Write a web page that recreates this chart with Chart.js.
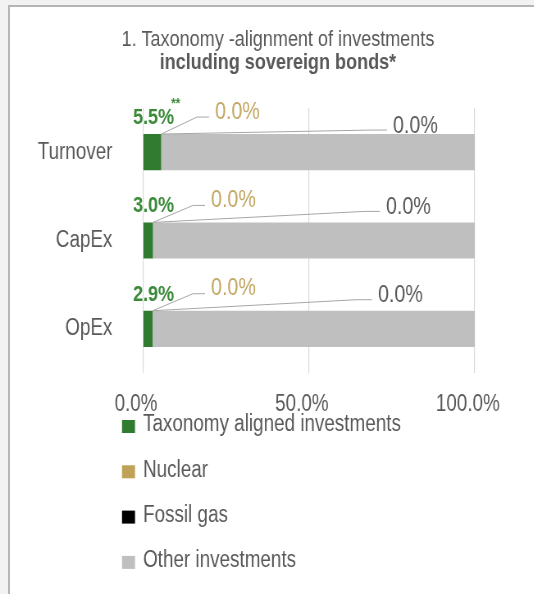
<!DOCTYPE html>
<html>
<head>
<meta charset="utf-8">
<title>Taxonomy alignment</title>
<script src="https://cdn.jsdelivr.net/npm/chart.js@4.4.0/dist/chart.umd.min.js"></script>
<style>
  body { margin: 0; background: #f2f2f2; overflow: hidden; }
  .panel { position: absolute; left: 8px; top: 5px; width: 600px; height: 700px; background: #fff; border-left: 2px solid #b5b5b5; border-top: 2px solid #b5b5b5; }
  /* el lienzo se comprime en horizontal para imitar la letra estrecha */
  #myChart { position: absolute; left: 0; top: 0; transform-origin: 0 0; }
</style>
</head>
<body>
<div class="panel"></div>
<canvas id="myChart"></canvas>
<script>
// datos
const categorias = ["Turnover", "CapEx", "OpEx"];
const alineadas = [5.5, 3.0, 2.9];
const nuclear = [0.0, 0.0, 0.0];
const gasFosil = [0.0, 0.0, 0.0];
const otras = [94.5, 97.0, 97.1];
const notas = ["**", "", ""];
const ticksX = [0, 50, 100];
const series = ["Taxonomy aligned investments", "Nuclear", "Fossil gas", "Other investments"];

const K = 0.82;
const ANCHO = 534, ALTO = 594;
const FUENTE = "'Liberation Sans', Arial, sans-serif";
const gris = "#595959";
const colores = ["#317b30", "#bfa257", "#000000", "#bfbfbf"];
const colorVerde = "#3a8a3a";
const colorNuclear = "#c2a661";
const colorLinea = "#a6a6a6";

const ctx = document.getElementById("myChart");
ctx.width = Math.round(ANCHO / K);
ctx.height = ALTO;
ctx.style.transform = "scaleX(" + K + ")";

// px de pantalla -> px del lienzo
function px(v) {
  return v / K;
}

// etiquetas con lineas guia y leyenda vertical
const etiquetas = {
  id: "etiquetas",
  afterDatasetsDraw(chart) {
    const c = chart.ctx;
    const x0 = chart.scales.x.getPixelForValue(0);
    const verde = chart.getDatasetMeta(0).data;
    const nuc = chart.getDatasetMeta(1).data;
    const gas = chart.getDatasetMeta(2).data;

    c.save();
    c.textBaseline = "middle";
    c.textAlign = "left";
    c.lineWidth = 1;
    c.strokeStyle = colorLinea;

    for (let i = 0; i < categorias.length; i++) {
      let arriba = verde[i].y - verde[i].height / 2;

      // taxonomy aligned
      c.font = "bold 22px " + FUENTE;
      c.fillStyle = colorVerde;
      let txt = alineadas[i].toFixed(1) + "%";
      let yv = arriba - 16;
      c.fillText(txt, x0 - px(10), yv);
      if (notas[i]) {
        let w = c.measureText(txt).width;
        c.font = "bold 14px " + FUENTE;
        c.fillText(notas[i], x0 - px(13) + w, yv - 14);
      }

      // nuclear
      let xn = nuc[i].x;
      let ln = x0 + px(i == 0 ? 72 : 68);
      let yn = arriba - 22;
      c.beginPath();
      c.moveTo(xn, arriba);
      c.lineTo(ln - px(18), yn + 5);
      c.lineTo(ln - px(6), yn + 5);
      c.stroke();
      c.font = "24px " + FUENTE;
      c.fillStyle = colorNuclear;
      c.fillText(nuclear[i].toFixed(1) + "%", ln, yn);

      // fossil gas
      let xg = gas[i].x;
      let lg = x0 + px(i == 0 ? 250 : (i == 1 ? 243 : 235));
      let yg = arriba - (i == 0 ? 8 : 15);
      c.beginPath();
      c.moveTo(xg, arriba);
      c.lineTo(lg - px(22), yg + 4);
      c.lineTo(lg - px(6), yg + 4);
      c.stroke();
      c.font = "24px " + FUENTE;
      c.fillStyle = gris;
      c.fillText(gasFosil[i].toFixed(1) + "%", lg, yg);
    }

    // leyenda
    let area = chart.chartArea;
    for (let j = 0; j < chart.data.datasets.length; j++) {
      let ds = chart.data.datasets[j];
      let cy = area.bottom + 52 + j * 45.3;
      c.fillStyle = ds.backgroundColor;
      c.fillRect(x0 - px(21), cy - 5, px(13), 13);
      c.font = "23px " + FUENTE;
      c.fillStyle = gris;
      c.fillText(ds.label, x0, cy);
    }
    c.restore();
  }
};

function grafica() {
  const valores = [alineadas, nuclear, gasFosil, otras];

  new Chart(ctx, {
    type: "bar",
    data: {
      labels: categorias,
      datasets: series.map((s, j) => ({
        label: s,
        data: valores[j],
        backgroundColor: colores[j],
        borderWidth: 0,
        barPercentage: 0.41,
        categoryPercentage: 1.0
      }))
    },
    options: {
      indexAxis: "y",
      responsive: false,
      animation: false,
      layout: { padding: { left: px(22), right: 0, top: 0, bottom: 181 } },
      plugins: {
        legend: { display: false },
        tooltip: { enabled: false },
        title: {
          display: true,
          text: "1. Taxonomy -alignment of investments",
          color: gris,
          font: { family: FUENTE, size: 22, weight: "normal", lineHeight: 1 },
          padding: { top: 29, bottom: 0 }
        },
        subtitle: {
          display: true,
          text: "including sovereign bonds*",
          color: gris,
          font: { family: FUENTE, size: 22, weight: "bold", lineHeight: 1 },
          padding: { top: 1, bottom: 34 }
        }
      },
      scales: {
        x: {
          stacked: true,
          min: 0,
          max: 100,
          afterBuildTicks: s => { s.ticks = ticksX.map(v => ({ value: v })); },
          afterFit: s => { s.height = 40; s.paddingRight = px(59); },
          grid: { color: "#d9d9d9", lineWidth: 1.2, drawTicks: false },
          border: { display: false },
          ticks: {
            padding: 18,
            labelOffset: px(-7),
            color: gris,
            font: { family: FUENTE, size: 23 },
            callback: v => v.toFixed(1) + "%"
          }
        },
        y: {
          stacked: true,
          afterFit: s => { s.width = px(121); },
          grid: { display: false },
          border: { display: false },
          ticks: { padding: px(24), color: gris, font: { family: FUENTE, size: 23 } }
        }
      }
    },
    plugins: [etiquetas]
  });
}

grafica();
</script>
</body>
</html>
